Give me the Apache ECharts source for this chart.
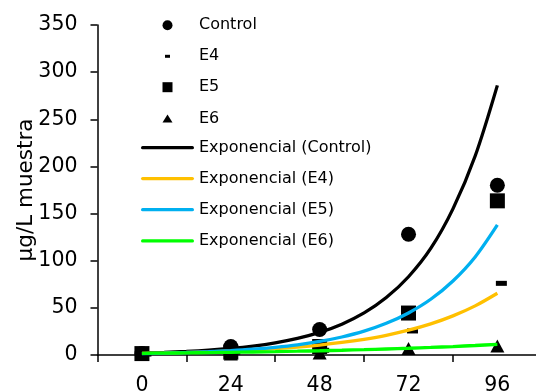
<!DOCTYPE html>
<html>
<head>
<meta charset="utf-8">
<script src="https://cdn.jsdelivr.net/npm/echarts@6/dist/echarts.min.js"></script>
<style>
  html, body { margin: 0; padding: 0; background: #fff; }
  #chart { width: 536px; height: 391px; }
</style>
</head>
<body>
<div id="chart"></div>
<script>
// ---- data ----
const categories = ['0', '24', '48', '72', '96'];
const hours = [0, 24, 48, 72, 96];
const control = [1.5, 9, 27, 128, 180];
const e4 = [1, 3, 5, 25.5, 76];
const e5 = [1.5, 3, 9, 44.5, 163.5];
const e6 = [1, 1, 2, 7, 9.5];

const trendHours = [0, 6, 12, 18, 24, 30, 36, 42, 48, 54, 60, 66, 72, 78, 84, 90, 96];
const trendControl = [2, 2.73, 3.72, 5.07, 6.92, 9.44, 12.9, 17.6, 24, 32.7, 44.6, 60.9, 83, 113, 155, 211, 286];
const trendE4 = [1.7, 2.14, 2.68, 3.37, 4.23, 5.32, 6.68, 8.4, 10.55, 13.3, 16.7, 20.9, 26.3, 33.0, 41.5, 52.1, 65.5];
const trendE5 = [1.5, 1.99, 2.64, 3.5, 4.65, 6.16, 8.18, 10.8, 14.4, 19.1, 25.3, 33.6, 44.6, 59.1, 78.5, 104, 138];
const trendE6 = [1.8, 2.02, 2.26, 2.54, 2.85, 3.2, 3.59, 4.02, 4.51, 5.06, 5.68, 6.37, 7.14, 8.01, 8.99, 10.1, 11.3];

const yTickMin = 0, yTickMax = 350, yTickStep = 50;

// ---- build ----
const pairs = (xs, ys) => xs.map((x, i) => [x, ys[i]]);
const FONT = 'DejaVu Sans';

const scatterDefs = [
  { name: 'Control', data: control, symbol: 'circle', size: 15, offset: [0, 0],
    icon: 'circle', iconW: 10, iconH: 10 },
  { name: 'E4', data: e4, symbol: 'rect', size: [11, 5], offset: [4, 0],
    icon: 'path://M0,0H5V3H0Z', iconW: 5, iconH: 3 },
  { name: 'E5', data: e5, symbol: 'rect', size: 15, offset: [0, 0],
    icon: 'path://M0,0H1V1H0Z', iconW: 10, iconH: 10 },
  { name: 'E6', data: e6, symbol: 'triangle', size: [14, 13], offset: [0, 0],
    icon: 'path://M5,0L10,8L0,8Z', iconW: 10, iconH: 8 }
];
const lineDefs = [
  { name: 'Exponencial (Control)', data: trendControl, color: '#000000' },
  { name: 'Exponencial (E4)', data: trendE4, color: '#FFC000' },
  { name: 'Exponencial (E5)', data: trendE5, color: '#00B0F0' },
  { name: 'Exponencial (E6)', data: trendE6, color: '#00FF00' }
];

const series = [];
scatterDefs.forEach(d => {
  series.push({
    name: d.name, type: 'scatter', xAxisIndex: 1, yAxisIndex: 0,
    data: pairs(hours, d.data), symbol: d.symbol, symbolSize: d.size,
    symbolOffset: d.offset, itemStyle: { color: '#000', opacity: 1 }, z: 2,
    emphasis: { disabled: true }
  });
});
lineDefs.forEach(d => {
  series.push({
    name: d.name, type: 'line', xAxisIndex: 1, yAxisIndex: 0,
    data: pairs(trendHours, d.data), smooth: 0.3, symbol: 'none', showSymbol: false,
    lineStyle: { color: d.color, width: 3.3 }, itemStyle: { color: d.color },
    z: 3, emphasis: { disabled: true }
  });
});

const ICON_W = 53, LEG_LEFT = 141;
const rowY = [25.3, 56.3, 87.2, 118.4, 147.7, 178.6, 209.7, 240.9];
const legends = [];
scatterDefs.forEach((d, i) => {
  legends.push({
    left: LEG_LEFT + ICON_W / 2 - d.iconW / 2, top: rowY[i] - 9, padding: 0,
    itemWidth: ICON_W, itemHeight: d.iconH,
    selectedMode: false,
    data: [{ name: d.name, icon: d.icon }],
    itemStyle: { opacity: 1 },
    textStyle: { fontFamily: FONT, fontSize: 16, lineHeight: 18, color: '#000' }
  });
});
lineDefs.forEach((d, i) => {
  legends.push({
    left: LEG_LEFT, top: rowY[i + 4] - 9, padding: 0, itemWidth: ICON_W, itemHeight: 8,
    selectedMode: false,
    data: [{ name: d.name, icon: 'path://M1.6,0H51.4A1.6,1.6,0,0,1,51.4,3.3H1.6A1.6,1.6,0,0,1,1.6,0Z' }],
    textStyle: { fontFamily: FONT, fontSize: 16, lineHeight: 18, color: '#000' }
  });
});

const chart = echarts.init(document.getElementById('chart'), null, { renderer: 'canvas' });
chart.setOption({
  animation: false,
  backgroundColor: '#ffffff',
  textStyle: { fontFamily: FONT },
  grid: { left: 97.5, top: 25, width: 444.3, height: 330, containLabel: false, outerBoundsMode: 'none' },
  legend: legends,
  xAxis: [
    {
      type: 'category', data: categories, position: 'bottom',
      axisLine: { show: true, onZero: false, lineStyle: { color: '#000', width: 1.5 } },
      axisTick: { show: true, inside: false, length: 7, alignWithLabel: false,
        lineStyle: { color: '#000', width: 1.5 } },
      axisLabel: { fontFamily: FONT, fontSize: 20.5, color: '#000', margin: 20 },
      splitLine: { show: false }
    },
    {
      type: 'value', min: -12, max: 108, interval: 12, show: false,
      splitLine: { show: false }
    }
  ],
  yAxis: [{
    type: 'value', min: yTickMin, max: yTickMax, interval: yTickStep,
    name: '\u00b5g/L muestra', nameLocation: 'middle', nameGap: 60, nameMoveOverlap: false,
    nameTextStyle: { fontFamily: FONT, fontSize: 21.5, color: '#000' },
    axisLine: { show: true, onZero: false, lineStyle: { color: '#000', width: 1.5 } },
    axisTick: { show: true, inside: false, length: 7, lineStyle: { color: '#000', width: 1.5 } },
    axisLabel: { fontFamily: FONT, fontSize: 20.5, color: '#000', margin: 20 },
    splitLine: { show: false }
  }],
  series: series
});
</script>
</body>
</html>
